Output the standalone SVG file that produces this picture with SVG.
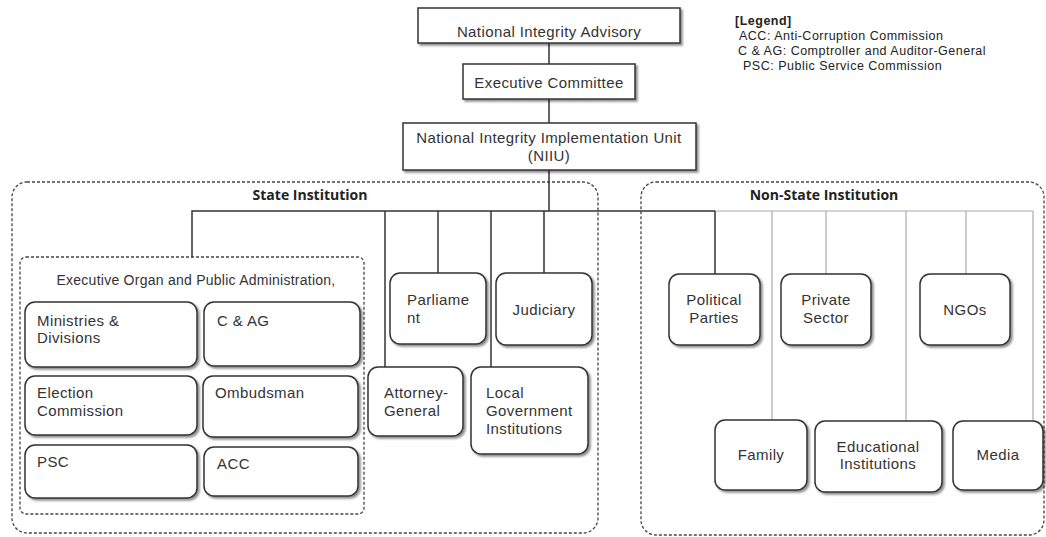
<svg xmlns="http://www.w3.org/2000/svg" width="1046" height="537" viewBox="0 0 1046 537">
  <style>
    .box { fill: #fff; stroke: #333; stroke-width: 1.5; filter: url(#shadow); }
    .frame { fill: none; stroke: #444; stroke-width: 1.3; stroke-dasharray: 3 2; }
    .t { font-family: "Liberation Sans", Arial, sans-serif; font-size: 15px; letter-spacing: 0.4px; fill: #333; }
    .t.small { font-size: 14px; letter-spacing: 0.25px; }
    .c { text-anchor: middle; }
    .hd { font-family: "Open Sans", "Liberation Sans", sans-serif; font-size: 14px; font-weight: bold; fill: #222; text-anchor: middle; }
    .lg { font-family: "Liberation Sans", Arial, sans-serif; font-size: 12.5px; letter-spacing: 0.5px; fill: #222; }
    .dark { stroke: #333; stroke-width: 1.5; fill: none; }
    .grey { stroke: #aaa; stroke-width: 1.2; fill: none; }
  </style>
  <defs>
    <filter id="shadow" x="-10%" y="-10%" width="130%" height="130%">
      <feDropShadow dx="2" dy="2" stdDeviation="1.2" flood-color="#000" flood-opacity="0.45"/>
    </filter>
  </defs>

  <rect width="1046" height="537" fill="#fff"/>

  <!-- grouping frames -->
  <g id="state-frame">
    <rect class="frame" x="12" y="182" width="586" height="351" rx="15"/>
    <text class="hd" x="310" y="200">State Institution</text>
  </g>
  <g id="nonstate-frame">
    <rect class="frame" x="641" y="182" width="403" height="353" rx="15"/>
    <text class="hd" x="824" y="200">Non-State Institution</text>
  </g>
  <g id="executive-frame">
    <rect class="frame" x="20" y="257" width="344" height="257" rx="6"/>
    <text class="t small c" x="196" y="285">Executive Organ and Public Administration,</text>
  </g>

  <!-- connectors -->
  <g id="connectors">
    <line class="dark" x1="549" y1="43" x2="549" y2="64"/>
    <line class="dark" x1="549" y1="99" x2="549" y2="123"/>
    <line class="dark" x1="549" y1="170" x2="549" y2="211" stroke-width="2.5"/>
    <polyline class="dark" points="192,257 192,211 715,211"/>
    <line class="grey" x1="715" y1="211" x2="1033" y2="211"/>
    <line class="dark" x1="385" y1="211" x2="385" y2="367"/>
    <line class="dark" x1="438" y1="211" x2="438" y2="273"/>
    <line class="dark" x1="491" y1="211" x2="491" y2="367"/>
    <line class="dark" x1="544" y1="211" x2="544" y2="273"/>
    <line class="dark" x1="715" y1="211" x2="715" y2="274"/>
    <line class="grey" x1="772" y1="211" x2="772" y2="420"/>
    <line class="grey" x1="826" y1="211" x2="826" y2="274"/>
    <line class="grey" x1="906" y1="211" x2="906" y2="421"/>
    <line class="grey" x1="966" y1="211" x2="966" y2="274"/>
    <line class="grey" x1="1033" y1="211" x2="1033" y2="421"/>
  </g>

  <!-- top hierarchy -->
  <g id="advisory">
    <rect class="box" x="418" y="8" width="262" height="35"/>
    <text class="t c" x="549" y="37">National Integrity Advisory</text>
  </g>
  <g id="executive-committee">
    <rect class="box" x="463" y="64" width="172" height="35"/>
    <text class="t c" x="549" y="88">Executive Committee</text>
  </g>
  <g id="niiu">
    <rect class="box" x="403" y="123" width="293" height="47"/>
    <text class="t c" x="549" y="143">National Integrity Implementation Unit</text>
    <text class="t c" x="549" y="161">(NIIU)</text>
  </g>

  <!-- legend -->
  <g id="legend">
    <text class="lg" x="735" y="25" font-weight="bold">[Legend]</text>
    <text class="lg" x="739" y="40">ACC: Anti-Corruption Commission</text>
    <text class="lg" x="738" y="55">C &amp; AG: Comptroller and Auditor-General</text>
    <text class="lg" x="743" y="70">PSC: Public Service Commission</text>
  </g>

  <!-- executive organ members -->
  <g id="ministries">
    <rect class="box" x="25" y="302" width="172" height="65" rx="10"/>
    <text class="t" x="37" y="326">Ministries &amp;</text>
    <text class="t" x="37" y="343">Divisions</text>
  </g>
  <g id="cag">
    <rect class="box" x="204" y="302" width="156" height="64" rx="10"/>
    <text class="t" x="217" y="326">C &amp; AG</text>
  </g>
  <g id="election-commission">
    <rect class="box" x="25" y="376" width="172" height="59" rx="10"/>
    <text class="t" x="37" y="398">Election</text>
    <text class="t" x="37" y="416">Commission</text>
  </g>
  <g id="ombudsman">
    <rect class="box" x="203" y="376" width="155" height="61" rx="10"/>
    <text class="t" x="215" y="398">Ombudsman</text>
  </g>
  <g id="psc">
    <rect class="box" x="25" y="445" width="172" height="53" rx="10"/>
    <text class="t" x="37" y="467">PSC</text>
  </g>
  <g id="acc">
    <rect class="box" x="204" y="447" width="154" height="49" rx="10"/>
    <text class="t" x="217" y="469">ACC</text>
  </g>

  <!-- other state institutions -->
  <g id="parliament">
    <rect class="box" x="390" y="273" width="96" height="71" rx="10"/>
    <text class="t" x="407" y="305">Parliame</text>
    <text class="t" x="407" y="323">nt</text>
  </g>
  <g id="judiciary">
    <rect class="box" x="496" y="273" width="96" height="72" rx="10"/>
    <text class="t c" x="544" y="315">Judiciary</text>
  </g>
  <g id="attorney-general">
    <rect class="box" x="368" y="367" width="95" height="69" rx="10"/>
    <text class="t" x="384" y="398">Attorney-</text>
    <text class="t" x="384" y="416">General</text>
  </g>
  <g id="local-government">
    <rect class="box" x="471" y="367" width="117" height="87" rx="10"/>
    <text class="t" x="486" y="398">Local</text>
    <text class="t" x="486" y="416">Government</text>
    <text class="t" x="486" y="434">Institutions</text>
  </g>

  <!-- non-state institutions -->
  <g id="political-parties">
    <rect class="box" x="669" y="274" width="91" height="71" rx="10"/>
    <text class="t c" x="714" y="305">Political</text>
    <text class="t c" x="714" y="323">Parties</text>
  </g>
  <g id="private-sector">
    <rect class="box" x="781" y="274" width="90" height="71" rx="10"/>
    <text class="t c" x="826" y="305">Private</text>
    <text class="t c" x="826" y="323">Sector</text>
  </g>
  <g id="ngos">
    <rect class="box" x="920" y="274" width="90" height="71" rx="10"/>
    <text class="t c" x="965" y="315">NGOs</text>
  </g>
  <g id="family">
    <rect class="box" x="715" y="420" width="92" height="70" rx="10"/>
    <text class="t c" x="761" y="460">Family</text>
  </g>
  <g id="educational-institutions">
    <rect class="box" x="815" y="421" width="127" height="71" rx="10"/>
    <text class="t c" x="878" y="452">Educational</text>
    <text class="t c" x="878" y="469">Institutions</text>
  </g>
  <g id="media">
    <rect class="box" x="953" y="421" width="90" height="69" rx="10"/>
    <text class="t c" x="998" y="460">Media</text>
  </g>
</svg>
